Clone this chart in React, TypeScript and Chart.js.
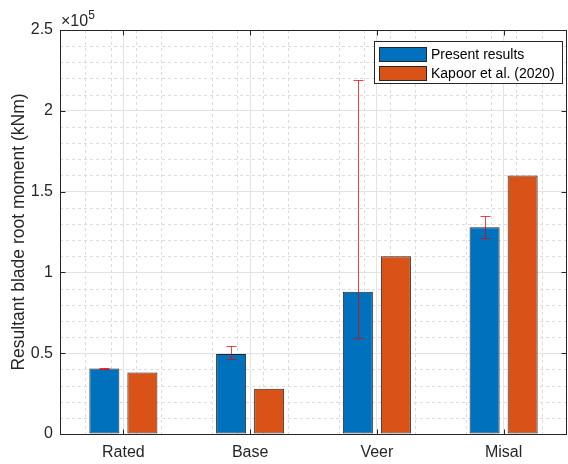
import React, { useEffect, useRef } from "react";
import { Chart, registerables } from "chart.js";

Chart.register(...registerables);

const categories = ["Rated", "Base", "Veer", "Misal"];
const presentResults = [40500, 49500, 88000, 128000];
const kapoor2020 = [38000, 28000, 110000, 160000];
const errLow = [40000, 46500, 59500, 121500];
const errHigh = [40800, 54500, 219000, 135000];
const yTickValues = [0, 50000, 100000, 150000, 200000, 250000];

const FONT = "'Liberation Sans', Arial, Helvetica, sans-serif";
const AXIS = "#262626";

const customPlugin = {
  id: "matlabStyle",
  beforeDatasetsDraw(chart: any) {
    const { ctx, chartArea: a, scales } = chart;
    const x = scales.x;
    const y = scales.y;
    const p0 = x.getPixelForValue(0);
    const p1 = x.getPixelForValue(1);
    const unit = p1 - p0;
    ctx.save();
    ctx.strokeStyle = "#dcdcdc";
    ctx.lineWidth = 1;
    ctx.setLineDash([3, 3]);
    for (let v = 10000; v < 250000; v += 10000) {
      if (v % 50000 === 0) continue;
      const py = Math.round(y.getPixelForValue(v)) + 0.5;
      ctx.beginPath();
      ctx.moveTo(a.left, py);
      ctx.lineTo(a.right, py);
      ctx.stroke();
    }
    for (let k = 1; k < 20; k++) {
      if (k % 5 === 0) continue;
      const v = -0.5 + k * 0.2;
      const px = Math.round(p0 + v * unit) + 0.5;
      ctx.beginPath();
      ctx.moveTo(px, a.top);
      ctx.lineTo(px, a.bottom);
      ctx.stroke();
    }
    ctx.restore();
  },
  afterDatasetsDraw(chart: any) {
    const { ctx, chartArea: a, scales } = chart;
    const y = scales.y;
    const meta = chart.getDatasetMeta(0);
    ctx.save();
    ctx.strokeStyle = "rgba(235,0,0,0.75)";
    ctx.lineWidth = 1;
    meta.data.forEach((bar: any, i: number) => {
      const cx = Math.round(bar.x) + 0.5;
      const yl = Math.round(y.getPixelForValue(errLow[i])) + 0.5;
      const yh = Math.round(y.getPixelForValue(errHigh[i])) + 0.5;
      ctx.beginPath();
      ctx.moveTo(cx, yl);
      ctx.lineTo(cx, yh);
      ctx.moveTo(cx - 5, yl);
      ctx.lineTo(cx + 5, yl);
      ctx.moveTo(cx - 5, yh);
      ctx.lineTo(cx + 5, yh);
      ctx.stroke();
    });
    ctx.restore();

    ctx.save();
    ctx.strokeStyle = AXIS;
    ctx.lineWidth = 1;
    const L = Math.round(a.left) + 0.5;
    const R = Math.round(a.right) - 0.5;
    const T = Math.round(a.top) + 0.5;
    const B = Math.round(a.bottom) + 0.5;
    ctx.strokeRect(L, T, R - L, B - T);
    ctx.beginPath();
    yTickValues.forEach((v) => {
      const py = Math.round(y.getPixelForValue(v)) + 0.5;
      ctx.moveTo(L, py);
      ctx.lineTo(L + 5, py);
      ctx.moveTo(R, py);
      ctx.lineTo(R - 5, py);
    });
    categories.forEach((_, i) => {
      const px = Math.round(scales.x.getPixelForValue(i)) + 0.5;
      ctx.moveTo(px, B);
      ctx.lineTo(px, B - 5);
      ctx.moveTo(px, T);
      ctx.lineTo(px, T + 5);
    });
    ctx.stroke();
    ctx.restore();

    ctx.save();
    ctx.fillStyle = AXIS;
    ctx.textBaseline = "alphabetic";
    ctx.textAlign = "left";
    ctx.font = `16px ${FONT}`;
    ctx.fillText("\u00d710", 61, 26);
    const w = ctx.measureText("\u00d710").width;
    ctx.font = `12px ${FONT}`;
    ctx.fillText("5", 61 + w, 19);
    ctx.restore();

    ctx.save();
    ctx.fillStyle = AXIS;
    ctx.font = `17.5px ${FONT}`;
    ctx.translate(19, (a.top + a.bottom) / 2);
    ctx.rotate(-Math.PI / 2);
    ctx.textAlign = "center";
    ctx.textBaseline = "middle";
    ctx.fillText("Resultant blade root moment (kNm)", 0, 0);
    ctx.restore();

    ctx.save();
    const lx = 374.5, ly = 41.5, lw = 188, lh = 42;
    ctx.fillStyle = "#ffffff";
    ctx.fillRect(lx, ly, lw, lh);
    ctx.strokeStyle = AXIS;
    ctx.strokeRect(lx, ly, lw, lh);
    chart.data.datasets.forEach((ds: any, i: number) => {
      const ry = 47 + i * 19;
      ctx.fillStyle = ds.backgroundColor;
      ctx.fillRect(379, ry, 48, 15);
      ctx.strokeStyle = AXIS;
      ctx.strokeRect(379.5, ry + 0.5, 47, 14);
      ctx.fillStyle = "#000";
      ctx.font = `14px ${FONT}`;
      ctx.textAlign = "left";
      ctx.textBaseline = "middle";
      ctx.fillText(ds.label, 431, ry + 8);
    });
    ctx.restore();
  },
};

export default function App() {
  const ref = useRef<HTMLCanvasElement | null>(null);
  useEffect(() => {
    if (!ref.current) return;
    const chart = new Chart(ref.current, {
      type: "bar",
      data: {
        labels: categories,
        datasets: [
          {
            label: "Present results",
            data: presentResults,
            backgroundColor: "#0072BD",
            borderColor: "#262626",
            borderWidth: 1,
            borderSkipped: false,
          },
          {
            label: "Kapoor et al. (2020)",
            data: kapoor2020,
            backgroundColor: "#D95319",
            borderColor: "#262626",
            borderWidth: 1,
            borderSkipped: false,
          },
        ],
      },
      options: {
        animation: false,
        responsive: false,
        maintainAspectRatio: false,
        layout: { padding: { top: 30, right: 1, left: 0, bottom: 0 } },
        datasets: { bar: { categoryPercentage: 0.6, barPercentage: 0.79 } },
        plugins: { legend: { display: false }, tooltip: { enabled: false } },
        scales: {
          x: {
            type: "category",
            offset: true,
            grid: { offset: false, color: "#e3e3e3", drawTicks: false },
            border: { display: false },
            ticks: {
              color: AXIS,
              font: { family: FONT, size: 16 },
              padding: 9,
            },
            afterFit: (s: any) => {
              s.height = 30;
            },
          },
          y: {
            type: "linear",
            min: 0,
            max: 250000,
            grid: { color: "#e3e3e3", drawTicks: false },
            border: { display: false },
            ticks: {
              stepSize: 50000,
              color: AXIS,
              padding: 7,
              font: { family: FONT, size: 16 },
              callback: (v: any) => String(Number(v) / 100000),
            },
            afterFit: (s: any) => {
              s.width = 60;
            },
          },
        },
      },
      plugins: [customPlugin],
    });
    return () => chart.destroy();
  }, []);
  return (
    <div style={{ position: "fixed", left: 0, top: 0, width: 568, height: 464, background: "#fff" }}>
      <canvas ref={ref} width={568} height={464} style={{ width: 568, height: 464 }} />
    </div>
  );
}
